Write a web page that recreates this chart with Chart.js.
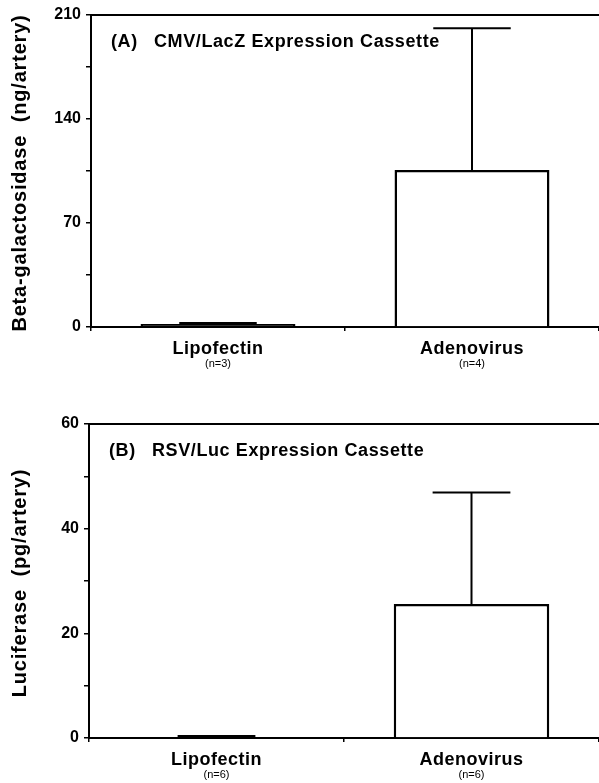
<!DOCTYPE html>
<html>
<head>
<meta charset="utf-8">
<script src="https://cdn.jsdelivr.net/npm/chart.js@4"></script>
<style>
  html, body { margin: 0; padding: 0; background: #fff; }
  canvas { display: block; }
</style>
</head>
<body>
<canvas id="chartA" width="599" height="375"></canvas>
<canvas id="chartB" width="599" height="408"></canvas>
<script>
/**
 * Data.
 */
const categories = ['Lipofectin', 'Adenovirus'];

const lacZSizes = ['(n=3)', '(n=4)'];
const lacZMeans = [2, 105.7];
const lacZErrors = [0.7, 95.3];
const lacZTicks = [0, 70, 140, 210];

const lucSizes = ['(n=6)', '(n=6)'];
const lucMeans = [0.2, 25.6];
const lucErrors = [0.2, 21.3];
const lucTicks = [0, 20, 40, 60];

const FONT = '"Liberation Sans", Arial, Helvetica, sans-serif';

/**
 * Draws the top frame line, the upward error bars and all the texts
 * that need letter spacing (axis title, panel title, category labels).
 */
const extrasPlugin = {
    id: 'extras',
    afterDatasetsDraw(chart, args, opts) {
        const ctx = chart.ctx;
        const area = chart.chartArea;
        const yScale = chart.scales.y;
        const xScale = chart.scales.x;
        ctx.save();
        ctx.strokeStyle = '#000';
        ctx.fillStyle = '#000';

        // top frame line
        ctx.lineWidth = 2;
        ctx.beginPath();
        ctx.moveTo(area.left, area.top);
        ctx.lineTo(chart.width, area.top);
        ctx.stroke();

        // error bars (upper half only)
        const meta = chart.getDatasetMeta(0);
        meta.data.forEach((bar, i) => {
            const err = opts.errors[i];
            if (!err) return;
            const yTop = yScale.getPixelForValue(opts.means[i] + err);
            const half = bar.width / 4;
            ctx.lineWidth = 2;
            ctx.beginPath();
            ctx.moveTo(bar.x, bar.y);
            ctx.lineTo(bar.x, yTop);
            ctx.moveTo(bar.x - half, yTop);
            ctx.lineTo(bar.x + half, yTop);
            ctx.stroke();
        });

        // panel title
        ctx.letterSpacing = '0.6px';
        ctx.font = 'bold 18px ' + FONT;
        ctx.textBaseline = 'middle';
        ctx.textAlign = 'left';
        ctx.fillText(opts.panel, area.left + 20, area.top + 27);
        ctx.fillText(opts.title, area.left + 63, area.top + 27);

        // category labels and sample sizes
        ctx.textAlign = 'center';
        categories.forEach((c, i) => {
            const x = xScale.getPixelForValue(i);
            ctx.letterSpacing = '0.5px';
            ctx.font = 'bold 18px ' + FONT;
            ctx.fillText(c, x, area.bottom + 22);
            ctx.letterSpacing = '0px';
            ctx.font = '11px ' + FONT;
            ctx.fillText(opts.sizes[i], x, area.bottom + 37);
        });

        // y axis title
        ctx.translate(20, (area.top + area.bottom) / 2 + 2);
        ctx.rotate(-Math.PI / 2);
        ctx.letterSpacing = '0.8px';
        ctx.font = 'bold 20px ' + FONT;
        ctx.fillText(opts.yTitle, 0, 0);
        ctx.restore();
    }
};

/**
 * Build one bar panel.
 */
function makeChart(id, o) {
    return new Chart(document.getElementById(id), {
        type: 'bar',
        data: {
            labels: categories,
            datasets: [{
                data: o.means,
                backgroundColor: ['#000', '#fff'],
                borderColor: '#000',
                borderWidth: 2.5,
                categoryPercentage: 1,
                barPercentage: 0.61
            }]
        },
        options: {
            responsive: false,
            animation: false,
            layout: { padding: { top: o.top, left: 0, right: 0, bottom: 0 } },
            plugins: {
                legend: { display: false },
                tooltip: { enabled: false },
                extras: { errors: o.errors, means: o.means, sizes: o.sizes, panel: o.panel, title: o.title, yTitle: o.yTitle }
            },
            scales: {
                x: {
                    offset: true,
                    grid: { display: true, drawOnChartArea: false, offset: true, color: '#000', tickLength: 4, lineWidth: 1.5 },
                    border: { display: true, color: '#000', width: 2 },
                    ticks: { display: false },
                    afterFit(scale) { scale.height = o.xHeight; }
                },
                y: {
                    min: 0,
                    max: o.ticks[o.ticks.length - 1],
                    grid: { display: true, drawOnChartArea: false, color: '#000', tickLength: 5, lineWidth: 1.5 },
                    border: { display: true, color: '#000', width: 2 },
                    afterBuildTicks(scale) {
                        const step = o.ticks[1] / 2;
                        const ticks = [];
                        for (let v = 0; v <= scale.max; v += step) ticks.push({ value: v });
                        scale.ticks = ticks;
                    },
                    ticks: {
                        color: '#000',
                        padding: 5,
                        font: { family: FONT, size: 16, weight: 'bold' },
                        callback: v => o.ticks.includes(v) ? v : ''
                    },
                    afterFit(scale) { scale.width = o.yWidth; }
                }
            }
        },
        plugins: [extrasPlugin]
    });
}

makeChart('chartA', {
    means: lacZMeans, errors: lacZErrors, sizes: lacZSizes, ticks: lacZTicks,
    panel: '(A)', title: 'CMV/LacZ Expression Cassette',
    yTitle: 'Beta-galactosidase  (ng/artery)',
    top: 15, xHeight: 48, yWidth: 91
});

makeChart('chartB', {
    means: lucMeans, errors: lucErrors, sizes: lucSizes, ticks: lucTicks,
    panel: '(B)', title: 'RSV/Luc Expression Cassette',
    yTitle: 'Luciferase  (pg/artery)',
    top: 49, xHeight: 45, yWidth: 89
});
</script>
</body>
</html>
